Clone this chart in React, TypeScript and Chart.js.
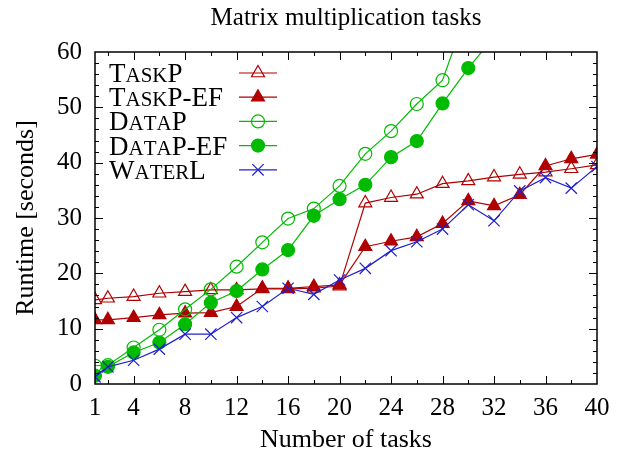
import React, { useEffect, useRef } from "react";
import { Chart, registerables } from "chart.js";

Chart.register(...registerables);

// ---- data ----
const TITLE = "Matrix multiplication tasks";
const X_TITLE = "Number of tasks";
const Y_TITLE = "Runtime [seconds]";

const TASKS = [1, 2, 4, 6, 8, 10, 12, 14, 16, 18, 20, 22, 24, 26, 28, 30, 32, 34, 36, 38, 40];
const TASKP = [15.2, 15.5, 15.8, 16.4, 16.7, 17.0, 17.0, 17.2, 17.2, 17.3, 17.7, 32.7, 33.7, 34.3, 36.2, 36.7, 37.4, 37.9, 38.3, 38.9, 39.6];
const TASKP_EF = [11.6, 11.6, 12.0, 12.5, 12.8, 12.9, 14.0, 17.3, 17.3, 17.6, 17.9, 24.8, 25.8, 26.6, 29.0, 33.1, 32.2, 34.2, 39.4, 40.7, 41.5];
const DATAP = [3.3, 3.4, 6.6, 9.8, 13.5, 17.1, 21.2, 25.6, 29.9, 31.7, 35.8, 41.6, 45.7, 50.6, 54.9, 68.0, null, null, null, null, null];
const DATAP_EF = [1.5, 3.1, 5.7, 7.5, 10.8, 14.7, 16.8, 20.7, 24.2, 30.4, 33.4, 36.0, 41.0, 43.9, 50.7, 57.1, 62.7, null, null, null, null];
const WATERL = [1.3, 3.1, 4.3, 6.3, 9.0, 9.0, 12.0, 14.0, 17.3, 16.2, 18.8, 20.9, 24.1, 25.7, 28.0, 32.4, 29.5, 34.9, 37.3, 35.4, 39.3];

const SERIES_NAMES = ["TaskP", "TaskP-EF", "DataP", "DataP-EF", "WaterL"];
const X_TICKS = [1, 4, 8, 12, 16, 20, 24, 28, 32, 36, 40];
const Y_TICKS = [0, 10, 20, 30, 40, 50, 60];

// ---- styles ----
const RED = "#b00000";
const GREEN = "#00bb00";
const BLUE = "#2020cc";
const FONT = "'Liberation Serif', 'DejaVu Serif', serif";

const STYLES = [
  { color: RED, pointStyle: "triangle", fill: false, radius: 7.5 },
  { color: RED, pointStyle: "triangle", fill: true, radius: 7.5 },
  { color: GREEN, pointStyle: "circle", fill: false, radius: 6.5 },
  { color: GREEN, pointStyle: "circle", fill: true, radius: 6.5 },
  { color: BLUE, pointStyle: "crossRot", fill: false, radius: 8 },
];

const SERIES = [TASKP, TASKP_EF, DATAP, DATAP_EF, WATERL];

function drawSmallCaps(ctx: CanvasRenderingContext2D, text: string, x: number, y: number, big: number, small: number) {
  let cx = x;
  for (const ch of text) {
    const isLower = ch !== ch.toUpperCase();
    ctx.font = `${isLower ? small : big}px ${FONT}`;
    const c = isLower ? ch.toUpperCase() : ch;
    ctx.fillText(c, cx, y);
    cx += ctx.measureText(c).width;
  }
}

function drawPointLocal(ctx: CanvasRenderingContext2D, style: string, r: number, x: number, y: number, fill: boolean) {
  ctx.beginPath();
  if (style === "triangle") {
    let rad = 0;
    ctx.moveTo(x + Math.sin(rad) * r, y - Math.cos(rad) * r);
    rad += (2 * Math.PI) / 3;
    ctx.lineTo(x + Math.sin(rad) * r, y - Math.cos(rad) * r);
    rad += (2 * Math.PI) / 3;
    ctx.lineTo(x + Math.sin(rad) * r, y - Math.cos(rad) * r);
    ctx.closePath();
  } else if (style === "circle") {
    ctx.arc(x, y, r, 0, Math.PI * 2);
    ctx.closePath();
  } else {
    const d = r * Math.SQRT1_2;
    ctx.moveTo(x - d, y - d);
    ctx.lineTo(x + d, y + d);
    ctx.moveTo(x - d, y + d);
    ctx.lineTo(x + d, y - d);
  }
  if (fill) ctx.fill();
  ctx.stroke();
}

const decorPlugin = {
  id: "decor",
  afterDatasetsDraw(chart: any) {
    const { ctx, chartArea, scales } = chart;
    const { left, right, top, bottom } = chartArea;
    const x = scales.x;
    const y = scales.y;
    ctx.save();
    ctx.strokeStyle = "#000";
    ctx.lineWidth = 1;
    ctx.beginPath();
    for (let v = 2; v < 40; v += 2) {
      const px = Math.round(x.getPixelForValue(v)) + 0.5;
      const len = v % 4 === 0 ? 8 : 4;
      ctx.moveTo(px, bottom);
      ctx.lineTo(px, bottom - len);
      ctx.moveTo(px, top);
      ctx.lineTo(px, top + len);
    }
    for (let v = 2; v < 60; v += 2) {
      const py = Math.round(y.getPixelForValue(v)) + 0.5;
      const len = v % 10 === 0 ? 8 : 4;
      ctx.moveTo(left, py);
      ctx.lineTo(left + len, py);
      ctx.moveTo(right, py);
      ctx.lineTo(right - len, py);
    }
    ctx.stroke();
    ctx.lineWidth = 1.5;
    ctx.strokeRect(left, top, right - left, bottom - top);

    // legend
    const rowY0 = 73;
    const rowGap = 24.2;
    for (let i = 0; i < SERIES_NAMES.length; i++) {
      const cy = rowY0 + i * rowGap;
      const st = STYLES[i];
      ctx.fillStyle = "#000";
      ctx.textBaseline = "alphabetic";
      ctx.textAlign = "left";
      drawSmallCaps(ctx, SERIES_NAMES[i], 109, cy + 9, 27, 21);
      ctx.strokeStyle = st.color;
      ctx.lineWidth = 1.2;
      ctx.beginPath();
      ctx.moveTo(239, cy);
      ctx.lineTo(277, cy);
      ctx.stroke();
      ctx.fillStyle = st.fill ? st.color : "rgba(0,0,0,0)";
      drawPointLocal(ctx, st.pointStyle, st.radius, 258, cy, st.fill);
    }

    // title
    ctx.fillStyle = "#000";
    ctx.font = `25px ${FONT}`;
    ctx.textAlign = "center";
    ctx.textBaseline = "middle";
    ctx.fillText(TITLE, (left + right) / 2, 18);
    ctx.restore();
  },
};

export default function App() {
  const ref = useRef<HTMLCanvasElement | null>(null);

  useEffect(() => {
    if (!ref.current) return;
    const datasets = SERIES.map((vals, i) => {
      const st = STYLES[i];
      return {
        label: SERIES_NAMES[i],
        data: TASKS.map((t, j) => ({ x: t, y: vals[j] })),
        borderColor: st.color,
        backgroundColor: st.fill ? st.color : "rgba(0,0,0,0)",
        borderWidth: 1.2,
        pointStyle: st.pointStyle,
        pointRadius: st.radius,
        pointBorderWidth: 1.2,
        pointBorderColor: st.color,
        pointBackgroundColor: st.fill ? st.color : "rgba(0,0,0,0)",
        spanGaps: false,
        tension: 0,
        order: SERIES.length - i,
      };
    });

    const chart = new Chart(ref.current, {
      type: "line",
      data: { datasets },
      plugins: [decorPlugin],
      options: {
        responsive: false,
        animation: false,
        devicePixelRatio: 1,
        layout: { padding: { left: 0, right: 23, top: 52, bottom: 0 } },
        plugins: {
          legend: { display: false },
          title: { display: false },
          tooltip: { enabled: false },
        },
        scales: {
          x: {
            type: "linear",
            min: 1,
            max: 40,
            afterBuildTicks: (s: any) => {
              s.ticks = X_TICKS.map((v) => ({ value: v }));
            },
            afterFit: (s: any) => {
              s.height = 75;
            },
            grid: { display: false, drawTicks: false },
            border: { display: false },
            ticks: {
              color: "#000",
              font: { family: FONT, size: 25 },
              padding: 9,
              maxRotation: 0,
              autoSkip: false,
            },
            title: {
              display: true,
              text: X_TITLE,
              color: "#000",
              font: { family: FONT, size: 26 },
              padding: { top: 0, bottom: 3 },
            },
          },
          y: {
            type: "linear",
            min: 0,
            max: 60,
            afterBuildTicks: (s: any) => {
              s.ticks = Y_TICKS.map((v) => ({ value: v }));
            },
            afterFit: (s: any) => {
              s.width = 95;
            },
            grid: { display: false, drawTicks: false },
            border: { display: false },
            ticks: {
              color: "#000",
              font: { family: FONT, size: 25 },
              padding: 13,
            },
            title: {
              display: true,
              text: Y_TITLE,
              color: "#000",
              font: { family: FONT, size: 26 },
              padding: { top: 11, bottom: 0 },
            },
          },
        },
      },
    } as any);
    return () => chart.destroy();
  }, []);

  return (
    <div style={{ position: "absolute", left: 0, top: 0, width: 620, height: 459, background: "#fff" }}>
      <canvas ref={ref} width={620} height={459} style={{ width: 620, height: 459 }} />
    </div>
  );
}
